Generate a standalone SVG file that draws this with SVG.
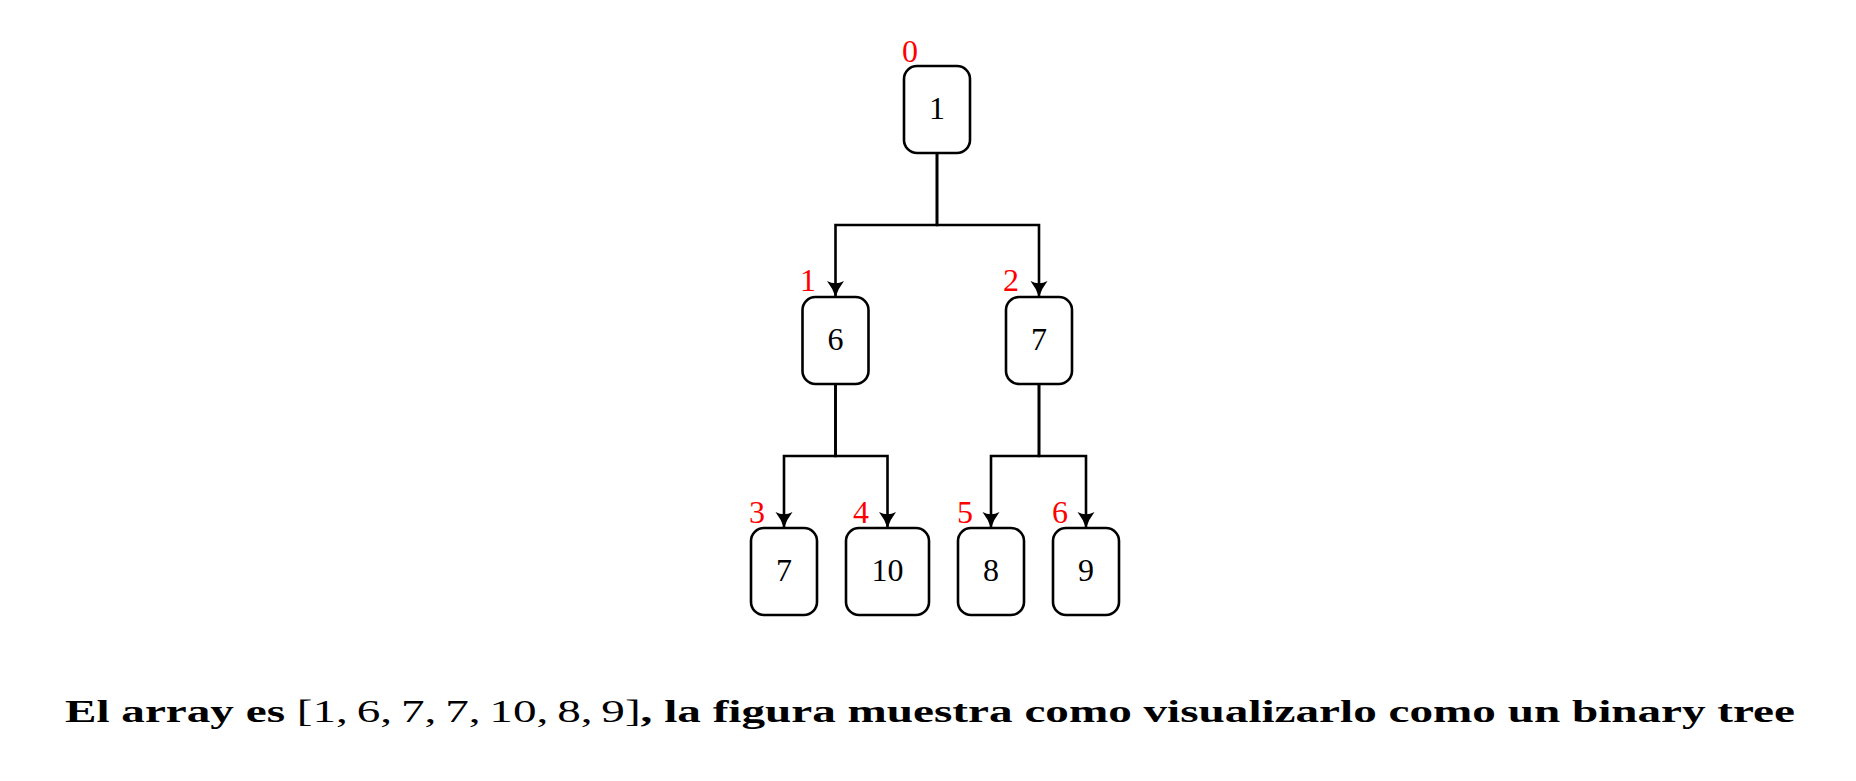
<svg xmlns="http://www.w3.org/2000/svg" width="1856" height="781" viewBox="0 0 1856 781">
<style>
.box{fill:#fff;stroke:#000;stroke-width:2.6}
.val{font-family:"Liberation Serif","DejaVu Serif",serif;font-size:32px;fill:#000;text-anchor:middle}
.idx{font-family:"Liberation Serif","DejaVu Serif",serif;font-size:32px;fill:#ff0000;text-anchor:end}
.edge{fill:none;stroke:#000;stroke-width:2.6;marker-end:url(#arr)}
.cap{font-family:"Liberation Serif","DejaVu Serif",serif;font-size:32px;font-weight:bold;fill:#000}
</style>
<defs>
<marker id="arr" markerUnits="userSpaceOnUse" markerWidth="24" markerHeight="24" viewBox="-18 -12 24 24" refX="0" refY="0" orient="auto">
<path d="M0,0 Q-9,-3 -16,-8.5 Q-11.5,0 -16,8.5 Q-9,3 0,0 Z" fill="#000"/>
</marker>
</defs>
<rect width="1856" height="781" fill="#fff"/>
<g id="connectors">
<path class="edge" d="M937,153 V225 H835.5 V297"/>
<path class="edge" d="M937,153 V225 H1039 V297"/>
<path class="edge" d="M835.5,384 V456 H784 V528"/>
<path class="edge" d="M835.5,384 V456 H887.5 V528"/>
<path class="edge" d="M1039,384 V456 H991 V528"/>
<path class="edge" d="M1039,384 V456 H1086 V528"/>
</g>
<g id="node0">
<rect class="box" x="904" y="66" width="66" height="87" rx="13"/>
<text class="val" x="937" y="119">1</text>
<text class="idx" x="918" y="62">0</text>
</g>
<g id="node1">
<rect class="box" x="802.5" y="297" width="66" height="87" rx="13"/>
<text class="val" x="835.5" y="350">6</text>
<text class="idx" x="816" y="291">1</text>
</g>
<g id="node2">
<rect class="box" x="1006" y="297" width="66" height="87" rx="13"/>
<text class="val" x="1039" y="350">7</text>
<text class="idx" x="1019" y="291">2</text>
</g>
<g id="node3">
<rect class="box" x="751" y="528" width="66" height="87" rx="13"/>
<text class="val" x="784" y="581">7</text>
<text class="idx" x="765" y="523">3</text>
</g>
<g id="node4">
<rect class="box" x="846" y="528" width="83" height="87" rx="13"/>
<text class="val" x="887.5" y="581">10</text>
<text class="idx" x="869" y="523">4</text>
</g>
<g id="node5">
<rect class="box" x="958" y="528" width="66" height="87" rx="13"/>
<text class="val" x="991" y="581">8</text>
<text class="idx" x="973" y="523">5</text>
</g>
<g id="node6">
<rect class="box" x="1053" y="528" width="66" height="87" rx="13"/>
<text class="val" x="1086" y="581">9</text>
<text class="idx" x="1068" y="523">6</text>
</g>
<g id="caption">
<text class="cap" x="65" y="722" textLength="1730" lengthAdjust="spacingAndGlyphs">El array es <tspan font-weight="normal">[1,<tspan dx="-2"> </tspan>6,<tspan dx="-2"> </tspan>7,<tspan dx="-2"> </tspan>7,<tspan dx="-2"> </tspan>10,<tspan dx="-2"> </tspan>8,<tspan dx="-2"> </tspan>9]</tspan>, la figura muestra como visualizarlo como un binary tree</text>
</g>
</svg>
